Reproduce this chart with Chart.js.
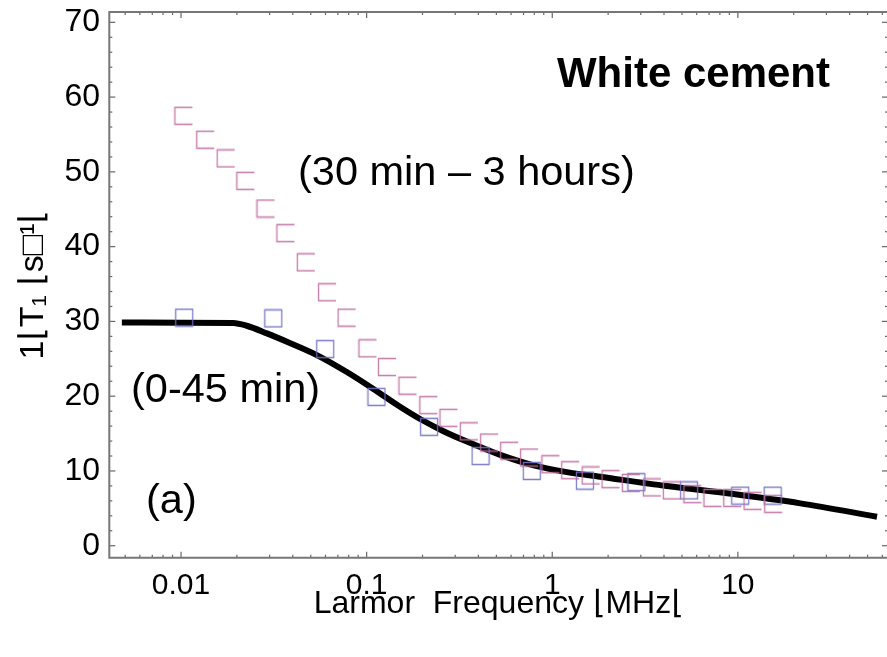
<!DOCTYPE html>
<html><head><meta charset="utf-8">
<script src="https://cdn.jsdelivr.net/npm/chart.js@4.4.1/dist/chart.umd.min.js"></script>
<style>html,body{margin:0;padding:0;background:#fff;overflow:hidden;}#wrap{width:888px;height:657px;}</style>
</head><body><div id="wrap"><canvas id="c" width="888" height="657"></canvas></div>
<script>
// Fitted model curve (black line)
const curveFreq = [0.0048, 0.01, 0.0191, 0.0226, 0.029, 0.0372, 0.0539, 0.0782, 0.1135, 0.1484, 0.1942, 0.2595, 0.347, 0.5244, 0.794, 1.2, 1.81, 4.15, 9.48, 21.7, 56.2];
const curveR1   = [29.85, 29.83, 29.8, 29.42, 28.4, 27.28, 25.5, 23.23, 20.66, 18.72, 16.95, 15.32, 13.93, 12.15, 10.75, 9.85, 9.23, 7.98, 6.91, 5.67, 3.88];
// (30 min – 3 hours) data (pink squares)
const lateFreq = [0.0103, 0.0135, 0.0174, 0.0222, 0.0285, 0.0365, 0.047, 0.0612, 0.078, 0.101, 0.1286, 0.166, 0.215, 0.276, 0.355, 0.457, 0.586, 0.75, 0.977, 1.25, 1.61, 2.06, 2.65, 3.44, 4.41, 5.69, 7.30, 9.33, 12.0, 15.5];
const lateR1   = [57.5, 54.3, 51.8, 48.8, 45.1, 41.8, 37.9, 33.9, 30.5, 26.4, 23.9, 21.4, 18.8, 17.1, 15.3, 13.8, 12.7, 11.8, 10.9, 10.1, 9.4, 8.9, 8.4, 7.8, 7.4, 6.9, 6.4, 6.4, 6.0, 5.6];
// (0-45 min) data (blue squares)
const earlyFreq = [0.0104, 0.0314, 0.0598, 0.113, 0.217, 0.411, 0.776, 1.50, 2.84, 5.46, 10.3, 15.4];
const earlyR1   = [30.5, 30.4, 26.3, 19.9, 15.9, 12.0, 10.0, 8.7, 8.5, 7.4, 6.7, 6.7];
// Axis ticks
const xMajorTicks = [0.01, 0.1, 1, 10];
const xMinorTicks = [0.005,0.006,0.007,0.008,0.009,0.02,0.03,0.04,0.05,0.06,0.07,0.08,0.09,0.2,0.3,0.4,0.5,0.6,0.7,0.8,0.9,2,3,4,5,6,7,8,9,20,30,40,50,60];
const yMajorTicks = [0, 10, 20, 30, 40, 50, 60, 70];
const yMinorTicks = [2,4,6,8,12,14,16,18,22,24,26,28,32,34,36,38,42,44,46,48,52,54,56,58,62,64,66,68];
const xRange = [0.004107, 64.4];
const yRange = [-1.6, 71.38];

const FONT = "'Liberation Sans', Arial, 'DejaVu Sans', sans-serif";

function makeSquare(color, openRight) {
  const c = document.createElement('canvas');
  c.width = 20; c.height = 20;
  const g = c.getContext('2d');
  g.strokeStyle = color; g.lineWidth = 1.3;
  g.beginPath();
  g.moveTo(19, 1.5); g.lineTo(1.5, 1.5); g.lineTo(1.5, 18.5); g.lineTo(19, 18.5);
  if (!openRight) { g.moveTo(18.5, 1.5); g.lineTo(18.5, 18.5); }
  g.stroke();
  return c;
}
const pinkSq = makeSquare('rgba(192,108,160,0.9)', true);
const blueSq = makeSquare('rgba(112,112,200,0.9)', false);

const toXY = (xs, ys) => xs.map((x, i) => ({x: x, y: ys[i]}));
const zeroPad = s => { s.paddingTop = 0; s.paddingBottom = 0; s.paddingLeft = 0; s.paddingRight = 0; };

const framePlugin = {
  id: 'frame',
  afterDraw(chart) {
    const ctx = chart.ctx, ca = chart.chartArea;
    const xs = chart.scales.x, ys = chart.scales.y;
    ctx.save();
    ctx.strokeStyle = '#666'; ctx.lineWidth = 1.2;
    const line = (a, b, c, d) => { ctx.beginPath(); ctx.moveTo(a, b); ctx.lineTo(c, d); ctx.stroke(); };
    xMajorTicks.forEach(v => { const p = xs.getPixelForValue(v); line(p, ca.bottom, p, ca.bottom - 6); line(p, ca.top, p, ca.top + 6); });
    xMinorTicks.forEach(v => { const p = xs.getPixelForValue(v); line(p, ca.bottom, p, ca.bottom - 3); line(p, ca.top, p, ca.top + 3); });
    yMajorTicks.forEach(v => { const p = ys.getPixelForValue(v); line(ca.left, p, ca.left + 6, p); line(ca.right, p, ca.right - 6, p); });
    yMinorTicks.forEach(v => { const p = ys.getPixelForValue(v); line(ca.left, p, ca.left + 3, p); line(ca.right, p, ca.right - 3, p); });
    // frame: top, left, bottom (the right edge lies at the picture border)
    ctx.strokeStyle = '#777'; ctx.lineWidth = 2;
    ctx.beginPath();
    ctx.moveTo(ca.right + 2, ca.top); ctx.lineTo(ca.left, ca.top); ctx.lineTo(ca.left, ca.bottom); ctx.lineTo(ca.right + 2, ca.bottom);
    ctx.stroke();
    // annotations
    ctx.fillStyle = '#000'; ctx.textBaseline = 'alphabetic';
    ctx.font = 'bold 42px ' + FONT; ctx.textAlign = 'right';
    ctx.fillText('White cement', 830, 87);
    ctx.font = '41.5px ' + FONT; ctx.textAlign = 'left';
    ctx.fillText('(30 min \u2013 3 hours)', 298, 185);
    ctx.fillText('(0-45 min)', 131, 401.7);
    ctx.fillText('(a)', 146, 513.3);
    ctx.restore();
  }
};

new Chart(document.getElementById('c'), {
  type: 'scatter',
  data: {
    datasets: [
      { label: 'fit', data: toXY(curveFreq, curveR1), showLine: true, borderColor: '#000', borderWidth: 6,
        pointRadius: 0, cubicInterpolationMode: 'monotone', fill: false, order: 3, borderCapStyle: 'butt' },
      { label: '0-45 min', data: toXY(earlyFreq, earlyR1), showLine: false, pointStyle: blueSq, pointRadius: 1, order: 2 },
      { label: '30 min - 3 hours', data: toXY(lateFreq, lateR1), showLine: false, pointStyle: pinkSq, pointRadius: 1, order: 1 }
    ]
  },
  options: {
    responsive: false, animation: false, events: [],
    layout: { autoPadding: false, padding: { top: 12, right: 0, left: 0, bottom: 0 } },
    plugins: { legend: { display: false }, tooltip: { enabled: false } },
    scales: {
      x: {
        type: 'logarithmic', position: 'bottom', min: xRange[0], max: xRange[1],
        grid: { display: false, drawTicks: false }, border: { display: false },
        afterBuildTicks: s => { s.ticks = xMajorTicks.map(v => ({ value: v })); },
        afterFit: s => { s.height = 99.3; zeroPad(s); },
        ticks: { color: '#000', font: { family: FONT, size: 30 }, padding: 10, autoSkip: false, maxRotation: 0,
                 callback: v => String(v) },
        title: { display: true, text: 'Larmor  Frequency \u230AMHz\u230A', color: '#000',
                 font: { family: FONT, size: 32 }, padding: { top: 0, bottom: 34 } }
      },
      y: {
        type: 'linear', min: yRange[0], max: yRange[1],
        grid: { display: false, drawTicks: false }, border: { display: false },
        afterBuildTicks: s => { s.ticks = yMajorTicks.map(v => ({ value: v })); },
        afterFit: s => { s.width = 109.3; zeroPad(s); },
        ticks: { color: '#000', font: { family: FONT, size: 32 }, padding: 9.3, callback: v => String(v) },
        title: { display: true, text: '1\u230AT\u2081 \u230As\u25A1\u00B9\u230A', color: '#000',
                 font: { family: FONT, size: 34 }, padding: { top: 13, bottom: 0 } }
      }
    }
  },
  plugins: [framePlugin]
});
</script></body></html>
